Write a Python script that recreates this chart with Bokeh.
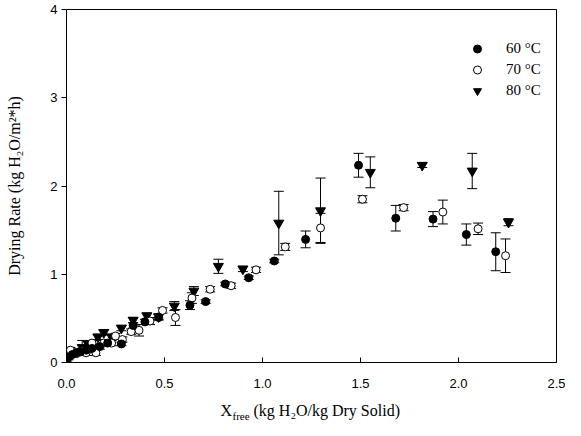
from bokeh.plotting import figure
from bokeh.layouts import column
from bokeh.models import (ColumnDataSource, Whisker, TeeHead, Legend, LegendItem,
                          FixedTicker, Range1d)
from bokeh.core.properties import value
from bokeh.embed import file_html
from bokeh.resources import INLINE

# ---- data ----
x60 = [0.00, 0.01, 0.03, 0.05, 0.07, 0.10, 0.13, 0.17, 0.21, 0.28, 0.34, 0.40, 0.47,
       0.63, 0.71, 0.81, 0.93, 1.06, 1.22, 1.49, 1.68, 1.87, 2.04, 2.19]
y60 = [0.03, 0.06, 0.09, 0.11, 0.12, 0.14, 0.16, 0.18, 0.22, 0.21, 0.42, 0.46, 0.51,
       0.65, 0.69, 0.89, 0.96, 1.15, 1.395, 2.235, 1.635, 1.625, 1.45, 1.255]
e60 = [0.02, 0.02, 0.02, 0.03, 0.02, 0.03, 0.02, 0.03, 0.03, 0.02, 0.03, 0.03, 0.03,
       0.05, 0.02, 0.02, 0.02, 0.02, 0.095, 0.135, 0.145, 0.085, 0.12, 0.215]

x70 = [0.00, 0.02, 0.05, 0.08, 0.10, 0.13, 0.15, 0.19, 0.23, 0.25, 0.285, 0.33, 0.37,
       0.426, 0.49, 0.556, 0.64, 0.733, 0.84, 0.967, 1.116, 1.296, 1.51, 1.72, 1.92,
       2.10, 2.24]
y70 = [0.12, 0.14, 0.10, 0.13, 0.11, 0.22, 0.11, 0.22, 0.22, 0.30, 0.26, 0.35, 0.365,
       0.47, 0.59, 0.51, 0.73, 0.83, 0.87, 1.05, 1.31, 1.525, 1.85, 1.755, 1.705,
       1.515, 1.21]
e70 = [0.03, 0.03, 0.02, 0.03, 0.03, 0.03, 0.03, 0.03, 0.03, 0.03, 0.03, 0.03, 0.065,
       0.04, 0.03, 0.09, 0.06, 0.03, 0.03, 0.03, 0.04, 0.165, 0.04, 0.035, 0.135,
       0.065, 0.19]

x80 = [0.01, 0.04, 0.08, 0.11, 0.16, 0.19, 0.23, 0.28, 0.34, 0.41, 0.47, 0.55, 0.65,
       0.775, 0.90, 1.083, 1.296, 1.55, 1.815, 2.07, 2.255]
y80 = [0.06, 0.12, 0.17, 0.21, 0.29, 0.34, 0.29, 0.39, 0.48, 0.53, 0.52, 0.64, 0.81,
       1.09, 1.06, 1.58, 1.72, 2.155, 2.235, 2.17, 1.59]
e80 = [0.03, 0.03, 0.08, 0.03, 0.03, 0.03, 0.03, 0.03, 0.03, 0.03, 0.03, 0.05, 0.05,
       0.08, 0.03, 0.36, 0.37, 0.175, 0.025, 0.20, 0.04]

series_labels = ["60 \u00b0C", "70 \u00b0C", "80 \u00b0C"]
xticks = [0.0, 0.5, 1.0, 1.5, 2.0, 2.5]
xtick_labels = ["0.0", "0.5", "1.0", "1.5", "2.0", "2.5"]
yticks = [0, 1, 2, 3, 4]
ytick_labels = ["0", "1", "2", "3", "4"]
x_title_parts = ["X", "free", "(kg H\u2082O/kg Dry Solid)"]
y_title = "Drying Rate (kg H\u2082O/m\u00b2*h)"

SERIF = "Liberation Serif"
SANS = "Liberation Sans"
W = 565
BL, BR = 66, 9

xr = Range1d(0, 2.5)
p = figure(width=W, height=396, x_range=xr, y_range=Range1d(0, 4),
           output_backend="svg", toolbar_location=None,
           min_border_left=BL, min_border_right=BR, min_border_top=9, min_border_bottom=34)
p.xgrid.visible = False
p.ygrid.visible = False
p.outline_line_color = "black"
p.outline_line_width = 1

p.xaxis.ticker = FixedTicker(ticks=xticks)
p.xaxis.major_label_overrides = {t: l for t, l in zip(xticks, xtick_labels)}
p.yaxis.ticker = FixedTicker(ticks=yticks)
p.yaxis.major_label_overrides = {t: l for t, l in zip(yticks, ytick_labels)}

for ax in (p.xaxis, p.yaxis):
    ax.axis_line_color = "black"
    ax.major_tick_line_color = "black"
    ax.minor_tick_line_color = None
    ax.major_label_text_font = SANS
    ax.major_label_text_font_size = "13px"
    ax.major_label_text_color = "black"

p.xaxis.major_tick_in = 5
p.xaxis.major_tick_out = 0
p.xaxis.major_label_standoff = 16
p.yaxis.major_tick_in = 0
p.yaxis.major_tick_out = 5
p.yaxis.major_label_standoff = 4

p.yaxis.axis_label = y_title
p.yaxis.axis_label_text_font = SERIF
p.yaxis.axis_label_text_font_size = "16px"
p.yaxis.axis_label_text_font_style = "normal"
p.yaxis.axis_label_text_color = "black"
p.yaxis.axis_label_standoff = 24

def src(xs, ys, es):
    return ColumnDataSource(dict(x=xs, y=ys,
                                 lo=[a - b for a, b in zip(ys, es)],
                                 hi=[a + b for a, b in zip(ys, es)]))

s60, s70, s80 = src(x60, y60, e60), src(x70, y70, e70), src(x80, y80, e80)

for s in (s60, s70, s80):
    p.add_layout(Whisker(source=s, base="x", lower="lo", upper="hi", dimension="height",
                         line_color="black", line_width=1, level="underlay",
                         upper_head=TeeHead(size=10, line_color="black", line_width=1),
                         lower_head=TeeHead(size=10, line_color="black", line_width=1)))

r80 = p.scatter("x", "y", source=s80, marker="inverted_triangle", size=10,
                fill_color="black", line_color="black")
r70 = p.scatter("x", "y", source=s70, marker="circle", size=8,
                fill_color="white", line_color="black", line_width=1)
r60 = p.scatter("x", "y", source=s60, marker="circle", size=8,
                fill_color="black", line_color="black")

legend = Legend(items=[LegendItem(label=series_labels[0], renderers=[r60]),
                       LegendItem(label=series_labels[1], renderers=[r70]),
                       LegendItem(label=series_labels[2], renderers=[r80])],
                location=(401, 261), padding=0, margin=0, spacing=0,
                glyph_width=20, glyph_height=21, label_height=21, label_standoff=19,
                border_line_color=None, background_fill_alpha=0,
                label_text_font=SERIF, label_text_font_size="15px",
                label_text_color="black")
p.add_layout(legend)

# x axis title strip (with subscript) sharing the x range
p2 = figure(width=W, height=24, x_range=xr, y_range=Range1d(0, 24),
            output_backend="svg", toolbar_location=None,
            x_axis_location=None, y_axis_location=None,
            min_border_left=BL, min_border_right=BR, min_border_top=0, min_border_bottom=0)
p2.outline_line_color = None
p2.xgrid.visible = False
p2.ygrid.visible = False
p2.text(x=[1.25], y=[10], text=[x_title_parts[0]], x_offset=-91,
        text_font=value(SERIF), text_font_size=value("16px"),
        text_baseline="middle", text_align="left", text_color="black")
p2.text(x=[1.25], y=[5], text=[x_title_parts[1]], x_offset=-79,
        text_font=value(SERIF), text_font_size=value("11px"),
        text_baseline="middle", text_align="left", text_color="black")
p2.text(x=[1.25], y=[10], text=[x_title_parts[2]], x_offset=-58,
        text_font=value(SERIF), text_font_size=value("16px"),
        text_baseline="middle", text_align="left", text_color="black")

layout = column(p, p2, spacing=0)
open("out.html", "w").write(file_html(layout, INLINE))
